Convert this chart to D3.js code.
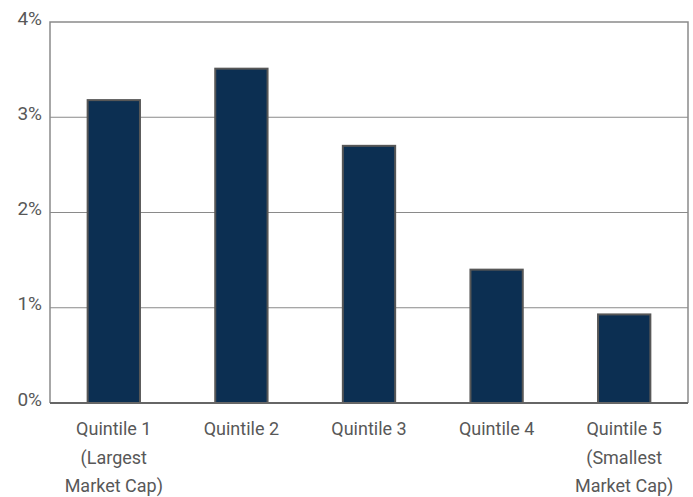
<!DOCTYPE html>
<html lang="en">
<head>
<meta charset="UTF-8">
<title>Quintile returns</title>
<script src="https://d3js.org/d3.v7.min.js"></script>
<style>
  body { margin: 0; background: #fff; }
  svg { display: block; }
  text { font-family: Roboto, "Liberation Sans", sans-serif; fill: #585858; }
</style>
</head>
<body>
<div id="chart"></div>
<script>
  // data
  var categories = ["Quintile 1", "Quintile 2", "Quintile 3", "Quintile 4", "Quintile 5"];
  var subLabels = [["(Largest", "Market Cap)"], [], [], [], ["(Smallest", "Market Cap)"]];
  var values = [3.18, 3.51, 2.70, 1.40, 0.93];
  var yTicks = [0, 1, 2, 3, 4];

  var w = 693, h = 497;
  var margin = { top: 22, right: 5, bottom: 94, left: 50 };

  var svg = d3.select("#chart").append("svg")
    .attr("width", w)
    .attr("height", h);

  var x = d3.scaleBand()
    .domain(categories)
    .range([margin.left, w - margin.right])
    .paddingInner(0.59)
    .paddingOuter(0.295);

  var y = d3.scaleLinear()
    .domain([0, 4])
    .range([h - margin.bottom, margin.top]);

  // gridlines
  svg.append("g")
    .selectAll("line")
    .data(yTicks.filter(function (d) { return d > 0 && d < 4; }))
    .enter().append("line")
    .attr("x1", margin.left)
    .attr("x2", w - margin.right)
    .attr("y1", function (d) { return y(d); })
    .attr("y2", function (d) { return y(d); })
    .attr("stroke", "#8a8a8a")
    .attr("stroke-width", 1.2);

  // frame: top, left, right
  svg.append("path")
    .attr("d", "M" + margin.left + "," + (h - margin.bottom) +
      "V" + margin.top + "H" + (w - margin.right) + "V" + (h - margin.bottom))
    .attr("fill", "none")
    .attr("stroke", "#8a8a8a")
    .attr("stroke-width", 1.5);

  // bars
  svg.append("g")
    .selectAll("rect")
    .data(values)
    .enter().append("rect")
    .attr("x", function (d, i) { return x(categories[i]); })
    .attr("y", function (d) { return y(d); })
    .attr("width", x.bandwidth())
    .attr("height", function (d) { return y(0) - y(d); })
    .attr("fill", "#0c2f52")
    .attr("stroke", "#575757")
    .attr("stroke-width", 2);

  // baseline
  svg.append("line")
    .attr("x1", margin.left)
    .attr("x2", w - margin.right)
    .attr("y1", y(0))
    .attr("y2", y(0))
    .attr("stroke", "#666")
    .attr("stroke-width", 2.2);

  // y labels
  svg.append("g")
    .selectAll("text")
    .data(yTicks)
    .enter().append("text")
    .attr("x", margin.left - 8)
    .attr("y", function (d) { return y(d) - 4; })
    .attr("dy", "0.35em")
    .attr("text-anchor", "end")
    .style("font-size", "19px")
    .text(function (d) { return d + "%"; });

  // x labels
  var xl = svg.append("g")
    .selectAll("text")
    .data(categories)
    .enter().append("text")
    .attr("text-anchor", "middle")
    .attr("x", function (d) { return x(d) + x.bandwidth() / 2; })
    .attr("y", y(0) + 32)
    .style("font-size", "18px");

  xl.each(function (d, i) {
    var t = d3.select(this);
    t.append("tspan")
      .attr("x", x(d) + x.bandwidth() / 2)
      .text(d);
    subLabels[i].forEach(function (s) {
      t.append("tspan")
        .attr("x", x(d) + x.bandwidth() / 2)
        .attr("dy", 28.5)
        .text(s);
    });
  });
</script>
</body>
</html>
